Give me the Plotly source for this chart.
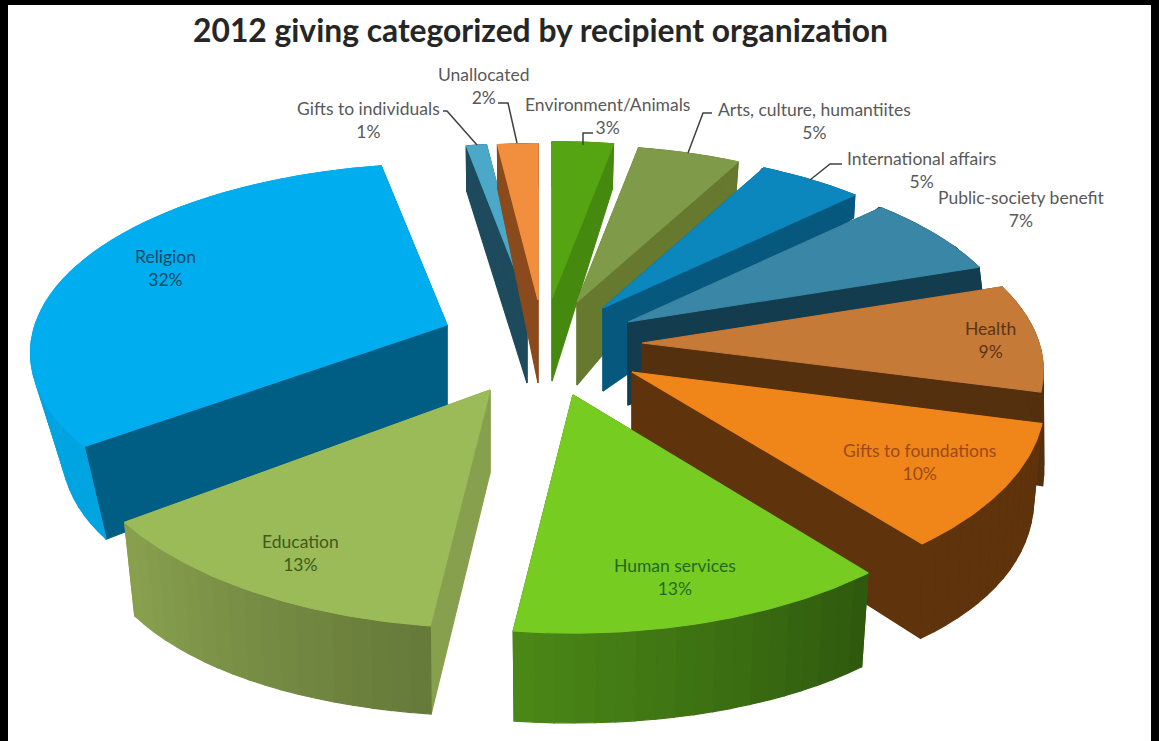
import numpy as np
import plotly.graph_objects as go

# ---- data ----
categories = ["Environment/Animals", "Arts, culture, humantiites", "International affairs",
              "Public-society benefit", "Health", "Gifts to foundations", "Human services",
              "Education", "Religion", "Gifts to individuals", "Unallocated"]
values = [3, 5, 5, 7, 9, 10, 13, 13, 32, 1, 2]
title_text = "2012 giving categorized by recipient organization"

# ---- styling / exploded-layout parameters, one entry per category ----
apex_x = [552, 577, 603, 628, 642, 632, 573, 490, 447, 527, 538]
apex_y = [298, 302, 308, 322, 343, 372, 395, 390, 325, 300, 300]
top_rx = [385, 385, 385, 387, 397, 408, 415, 415, 412, 380, 380]
top_ry = [184, 184, 184, 186, 190, 200, 207, 207, 190, 184, 184]
bot_rx = [395, 395, 395, 395, 395, 395, 395, 395, 379, 395, 395]
bot_ry = [195, 214, 253, 374, 240, 238, 245, 243, 223, 195, 195]
top_col = ["#55A411", "#7F9A48", "#0C87BD", "#3A86A6", "#C67A38", "#F08519", "#77CC22",
           "#9BBB59", "#00ADEF", "#4BA8C8", "#F28F3F"]
cut_col = ["#458A0E", "#66792F", "#06587E", "#133D4F", "#54300F", "#5F330B", "#3A6A10",
           "#87A04E", "#005E85", "#1D4A5C", "#8A4A1C"]
wall_a = ["#458A0E", "#66792F", "#06587E", "#133D4F", "#54300F", "#5F330B", "#2F5A0E",
          "#667A3A", "#00A4E0", "#1D4A5C", "#8A4A1C"]
wall_b = ["#458A0E", "#66792F", "#06587E", "#133D4F", "#54300F", "#5F330B", "#4C8A17",
          "#8AA24F", "#00A4E0", "#1D4A5C", "#8A4A1C"]
label_x = [607, 814, 921, 1021, 990, 919, 675, 300, 165, 368, 483]
label_y = [116, 121, 170, 209, 340, 462, 577, 553, 268, 120, 86]
label_col = ["#595959"] * 4 + ["#5B3415", "#9C4A17", "#1F6B1F", "#3F5A1C", "#0F4A63", "#595959", "#595959"]
leaders = [((593, 133), (583, 133), (583, 145)),
           ((712, 113), (703, 113), (688, 153)),
           ((842, 164), (830, 164), (810, 180)),
           None, None, None, None, None, None,
           ((443, 111), (447, 111), (477, 145)),
           ((498, 103), (508, 103), (517, 143))]
DEPTH, KTOP, KBOT = 83, 0.15, 0.19

fig = go.Figure()


def poly(xs, ys, color, name):
    fig.add_trace(go.Scatter(x=list(xs) + [xs[0]], y=list(ys) + [ys[0]], mode="lines", fill="toself",
                             fillcolor=color, line=dict(color=color, width=1.2),
                             name=name, hoverinfo="name", showlegend=False))


def top_pt(i, t):
    Y = -np.cos(t)
    s = 1 + KTOP * Y
    return apex_x[i] + top_rx[i] * np.sin(t) * s, apex_y[i] + top_ry[i] * Y * s


def bot_pt(i, t):
    Y = -np.cos(t)
    by = apex_y[i] + DEPTH + bot_ry[i] * Y
    return apex_x[i] + bot_rx[i] * np.sin(t) * (1 + KBOT * Y), max(by, top_pt(i, t)[1])


def blend(a, b, f):
    ca = [int(a[k:k + 2], 16) for k in (1, 3, 5)]
    cb = [int(b[k:k + 2], 16) for k in (1, 3, 5)]
    return "#%02X%02X%02X" % tuple(round(p + (q - p) * f) for p, q in zip(ca, cb))


edges = np.concatenate([[0], np.cumsum(values)]) / sum(values) * 2 * np.pi
order = [9, 10, 0, 1, 2, 3, 4, 5, 6, 8, 7]
for i in order:
    a0, a1 = edges[i], edges[i + 1]
    name = f"{categories[i]}: {values[i]}%"
    ax, ay = apex_x[i], apex_y[i]
    # straight cut faces
    for t in (a0, a1):
        tx, ty = top_pt(i, t)
        bx, by = bot_pt(i, t)
        poly([ax, tx, bx, ax], [ay, ty, by, ay + DEPTH], cut_col[i], name)
    # outer curved wall, shaded along the arc
    nseg = max(2, int(values[i] * 1.5))
    grid = np.linspace(a0, a1, nseg + 1)
    for k in range(nseg):
        sub = np.linspace(grid[k], grid[k + 1], 5)
        tp = [top_pt(i, t) for t in sub]
        bp = [bot_pt(i, t) for t in sub[::-1]]
        poly([p[0] for p in tp + bp], [p[1] for p in tp + bp], blend(wall_a[i], wall_b[i], k / nseg), name)
    # top face
    sub = np.linspace(a0, a1, 60)
    tp = [top_pt(i, t) for t in sub]
    poly([ax] + [p[0] for p in tp], [ay] + [p[1] for p in tp], top_col[i], name)

annotations = []
for i, c in enumerate(categories):
    annotations.append(dict(x=label_x[i], y=label_y[i], text=f"{c}<br>{values[i]}%", showarrow=False,
                            xanchor="center", yanchor="middle", align="center",
                            font=dict(family="Lato", size=17.5, color=label_col[i])))
    if leaders[i]:
        fig.add_trace(go.Scatter(x=[p[0] for p in leaders[i]], y=[p[1] for p in leaders[i]], mode="lines",
                                 line=dict(color="#404040", width=1.5), hoverinfo="skip", showlegend=False))

annotations.append(dict(x=540, y=30, text=f"<b>{title_text}</b>", showarrow=False, xanchor="center",
                        yanchor="middle", font=dict(family="Lato", size=31.8, color="#262626")))

edge = dict(type="rect", fillcolor="#000000", line=dict(width=0), layer="above", xref="x", yref="y")
fig.update_layout(
    width=1159, height=741, margin=dict(l=0, r=0, t=0, b=0),
    paper_bgcolor="#FFFFFF", plot_bgcolor="#FFFFFF", showlegend=False,
    xaxis=dict(range=[0, 1159], visible=False, fixedrange=True),
    yaxis=dict(range=[741, 0], visible=False, fixedrange=True),
    annotations=annotations,
    shapes=[dict(edge, x0=0, x1=1159, y0=0, y1=5),
            dict(edge, x0=0, x1=8, y0=0, y1=741),
            dict(edge, x0=1151, x1=1159, y0=0, y1=741)],
)
fig.write_html("out.html", post_script="document.body.style.margin='0';",
               config={"displayModeBar": False})
